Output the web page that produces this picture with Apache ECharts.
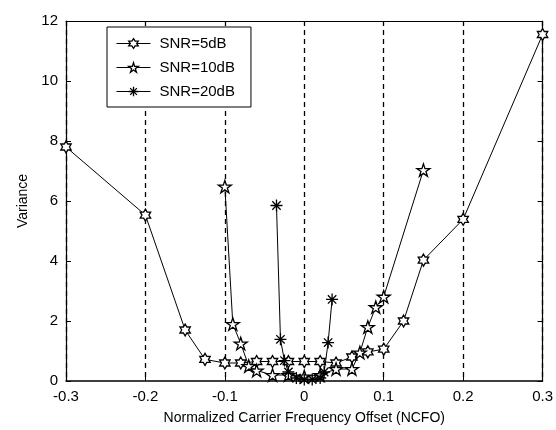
<!DOCTYPE html>
<html><head><meta charset="utf-8">
<script src="https://cdn.jsdelivr.net/npm/echarts@6/dist/echarts.min.js"></script>
<style>html,body{margin:0;padding:0;background:#fff}#c{width:556px;height:430px}</style>
</head><body><div id="c"></div>
<script>
const xTicks = [-0.3, -0.2, -0.1, 0, 0.1, 0.2, 0.3];
const yTicks = [0, 2, 4, 6, 8, 10, 12];

const x5 = [-0.3, -0.2, -0.15, -0.125, -0.1, -0.08, -0.06, -0.04, -0.02, 0, 0.02, 0.04, 0.06, 0.08, 0.1, 0.125, 0.15, 0.2, 0.3];
const y5 = [7.8, 5.53, 1.7, 0.72, 0.6, 0.6, 0.65, 0.65, 0.65, 0.65, 0.65, 0.6, 0.8, 0.97, 1.06, 2.0, 4.03, 5.39, 11.55];

const x10 = [-0.1, -0.09, -0.08, -0.07, -0.06, -0.04, -0.02, 0, 0.02, 0.04, 0.06, 0.07, 0.08, 0.09, 0.1, 0.15];
const y10 = [6.48, 1.9, 1.25, 0.5, 0.35, 0.2, 0.2, 0.15, 0.2, 0.4, 0.4, 0.95, 1.8, 2.46, 2.81, 7.03];

const x20 = [-0.035, -0.03, -0.025, -0.02, -0.01, 0, 0.01, 0.02, 0.025, 0.03, 0.035];
const y20 = [5.85, 1.39, 0.68, 0.3, 0.1, 0.05, 0.05, 0.1, 0.3, 1.28, 2.72];

const seriesNames = ['SNR=5dB', 'SNR=10dB', 'SNR=20dB'];

const HEX = 'path://M0,-1L0.289,-0.5L0.866,-0.5L0.577,0L0.866,0.5L0.289,0.5L0,1L-0.289,0.5L-0.866,0.5L-0.577,0L-0.866,-0.5L-0.289,-0.5Z';
const PENT = 'path://M0,-1L0.225,-0.309L0.951,-0.309L0.363,0.118L0.588,0.809L0,0.382L-0.588,0.809L-0.363,0.118L-0.951,-0.309L-0.225,-0.309Z';
const AST = 'path://M0,-1L0,1M-1,0L1,0M-0.7,-0.7L0.7,0.7M-0.7,0.7L0.7,-0.7';

function pairs(xs, ys){ return xs.map((x,i)=>[x, ys[i]]); }

const FONT = 'Liberation Sans, Arial, sans-serif';
const chart = echarts.init(document.getElementById('c'), null, {renderer:'canvas'});

function mkSeries(name, xs, ys, sym, size){
  return {
    name, type:'line', data: pairs(xs, ys), symbol: sym, symbolSize: size, symbolKeepAspect: true,
    showAllSymbol: true, animation:false,
    lineStyle:{color:'#000', width:1},
    itemStyle:{color:'#fff', borderColor:'#000', borderWidth:1.3},
    emphasis:{disabled:true}
  };
}

const legendItem = name => ({name, itemStyle:{color:'#fff', borderColor:'#000', borderWidth:1.3}, lineStyle:{color:'#000', width:1}});

chart.setOption({
  animation:false,
  backgroundColor:'#fff',
  grid:{left:66, right:11, top:21, bottom:49},
  legend:{
    orient:'vertical', left:107, top:27, width:142,
    itemWidth:34, itemHeight:12, itemGap:9,
    padding:[9,16,8,9],
    backgroundColor:'#fff', borderColor:'#000', borderWidth:1, borderRadius:0,
    textStyle:{fontFamily:FONT, fontSize:15, color:'#000', padding:[0,0,0,4]},
    data: seriesNames.map(legendItem)
  },
  xAxis:[{
    type:'value', min:-0.3, max:0.3, interval:0.1,
    name:'Normalized Carrier Frequency Offset (NCFO)', nameLocation:'middle', nameGap:30,
    nameTextStyle:{fontFamily:FONT, fontSize:14, color:'#000'},
    axisLine:{show:true, onZero:false, lineStyle:{color:'#000', width:1.5}},
    axisTick:{show:true, inside:true, length:5, lineStyle:{color:'#000'}},
    axisLabel:{fontFamily:FONT, fontSize:15, color:'#000', margin:8,
      formatter:v=>{const r=Math.round(v*10)/10; return xTicks.includes(r)? String(r):'';}},
    splitLine:{show:true, lineStyle:{color:'#000', type:[5,4], width:1.3}}
  },{
    type:'value', position:'top', min:-0.3, max:0.3, interval:0.1,
    axisLine:{show:true, onZero:false, lineStyle:{color:'#000', width:1}},
    axisTick:{show:true, inside:true, length:5, lineStyle:{color:'#000'}},
    axisLabel:{show:false}, splitLine:{show:false}
  }],
  yAxis:[{
    type:'value', min:0, max:12, interval:2,
    name:'Variance', nameLocation:'middle', nameGap:36,
    nameTextStyle:{fontFamily:FONT, fontSize:14, color:'#000'},
    axisLine:{show:true, onZero:false, lineStyle:{color:'#000', width:1.2}},
    axisTick:{show:true, inside:true, length:5, lineStyle:{color:'#000'}},
    axisLabel:{fontFamily:FONT, fontSize:15, color:'#000', margin:8,
      formatter:v=>yTicks.includes(v)? String(v):''},
    splitLine:{show:false}
  },{
    type:'value', position:'right', min:0, max:12, interval:2,
    axisLine:{show:true, onZero:false, lineStyle:{color:'#000', width:1.2}},
    axisTick:{show:true, inside:true, length:5, lineStyle:{color:'#000'}},
    axisLabel:{show:false}, splitLine:{show:false}
  }],
  series:[
    mkSeries(seriesNames[0], x5, y5, HEX, 12),
    mkSeries(seriesNames[1], x10, y10, PENT, 13),
    mkSeries(seriesNames[2], x20, y20, AST, 12)
  ]
});
</script></body></html>
